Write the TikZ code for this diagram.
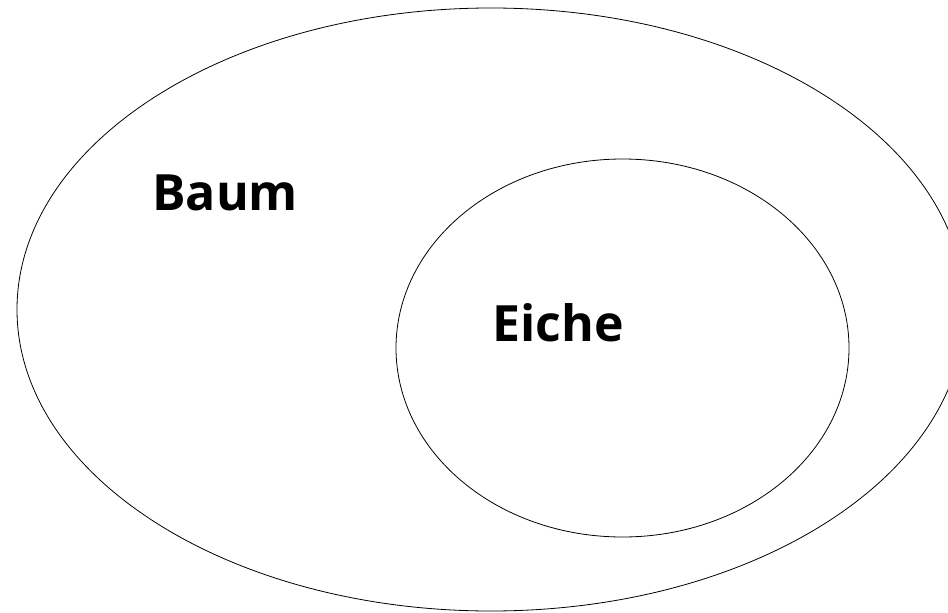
\documentclass[tikz,border=0pt]{standalone}
\usepackage{fontspec}
\setmainfont{Open Sans}
\tikzset{
  setline/.style={draw=black, line width=0.8pt},
  lbl/.style={font=\bfseries\fontsize{50}{60}\selectfont, inner sep=0pt, anchor=base west}
}
\begin{document}
\begin{tikzpicture}[x=1pt,y=-1pt]
\useasboundingbox (0,0) rectangle (948,613);
\begin{scope}
\clip (0,0) rectangle (948,613);
\draw[setline] (491,309.5) ellipse [x radius=474, y radius=301.5];
\end{scope}
\draw[setline] (622.5,348) ellipse [x radius=226.5, y radius=189];
\node[lbl] (baum) at (152,210) {Baum};
\node[lbl] (eiche) at (492,341) {Eiche};
\end{tikzpicture}
\end{document}
